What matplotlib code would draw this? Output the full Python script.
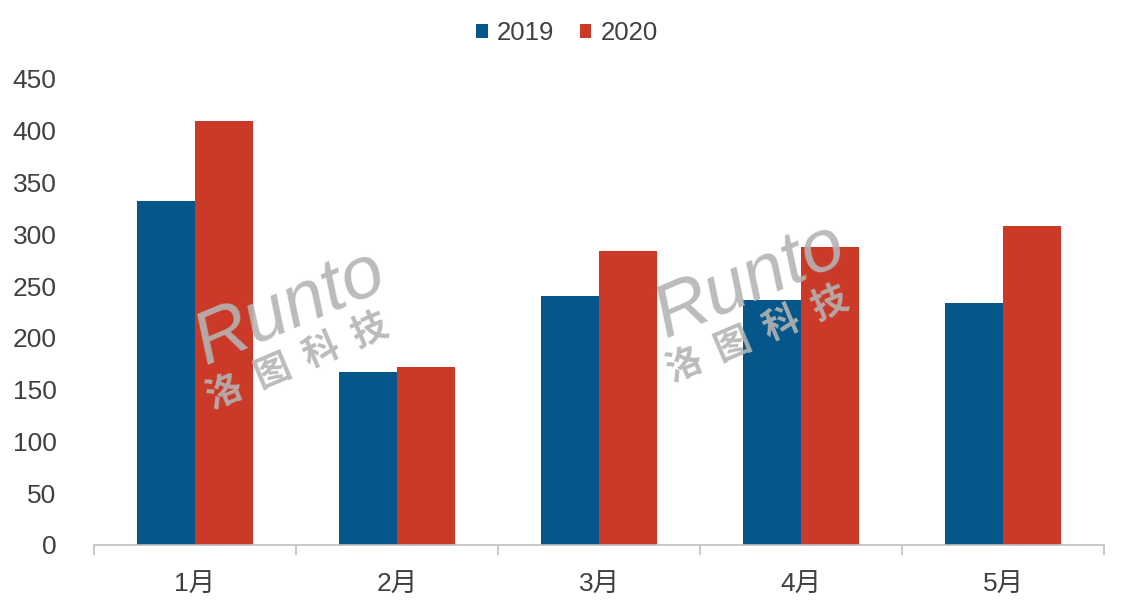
import matplotlib.pyplot as plt
import numpy as np

plt.rcParams['font.family'] = ['Liberation Sans', 'Noto Sans CJK SC', 'DejaVu Sans']

months = ['1月', '2月', '3月', '4月', '5月']
sales_2019 = [332, 167, 240, 237, 234]
sales_2020 = [409, 172, 284, 288, 308]
yticks = [0, 50, 100, 150, 200, 250, 300, 350, 400, 450]

blue = '#05568A'
red = '#CB3A28'
txt = '#404040'

fig = plt.figure(figsize=(11.25, 6.13), dpi=100)
ax = fig.add_axes([94 / 1125, 68 / 613, 1010 / 1125, 466 / 613])

x = np.arange(len(months))
width = 0.285
ax.bar(x - width / 2, sales_2019, width, color=blue, label='2019')
ax.bar(x + width / 2, sales_2020, width, color=red, label='2020')

ax.set_xlim(-0.5, len(months) - 0.5)
ax.set_ylim(0, 450)
ax.set_yticks(yticks)
ax.set_yticklabels([str(v) for v in yticks], fontsize=19, color=txt)
ax.tick_params(axis='y', length=0, pad=27)

# category ticks sit between the groups, labels in the middle
ax.set_xticks(np.arange(len(months) + 1) - 0.5)
ax.set_xticklabels([])
ax.set_xticks(x, minor=True)
ax.set_xticklabels(months, minor=True, fontsize=19, color=txt)
ax.tick_params(axis='x', which='major', length=7, color='#BFBFBF', width=1.2)
ax.tick_params(axis='x', which='minor', length=0, pad=20)

for s in ['left', 'right', 'top']:
    ax.spines[s].set_visible(False)
ax.spines['bottom'].set_color('#BFBFBF')
ax.spines['bottom'].set_linewidth(1.2)

fig.legend(loc='center', bbox_to_anchor=(567 / 1125, 1 - 33 / 613), ncol=2,
           frameon=False, fontsize=18.5, handlelength=0.45, handleheight=0.45,
           handletextpad=0.35, columnspacing=1.0, labelcolor=txt)

# faint watermark, twice
for wx, wy in [(205, 365), (665, 338)]:
    fig.text(wx / 1125, 1 - wy / 613, 'Runto', rotation=23, rotation_mode='anchor',
             fontsize=54, color='#B4B4B4', style='italic', alpha=0.9,
             family=['Liberation Sans'])
    fig.text((wx + 8) / 1125, 1 - (wy + 45) / 613, '洛  图  科  技', rotation=23,
             rotation_mode='anchor', fontsize=26, color='#B4B4B4', alpha=0.9,
             fontweight='bold', family=['Noto Sans CJK SC'])

fig.savefig('out.png', dpi=100)
